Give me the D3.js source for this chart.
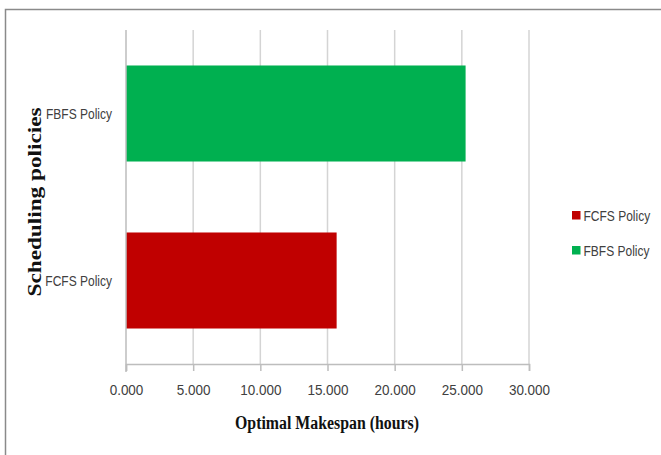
<!DOCTYPE html>
<html>
<head>
<meta charset="utf-8">
<script src="https://cdn.jsdelivr.net/npm/d3@7"></script>
<style>
  body { margin: 0; background: #fff; }
  svg { display: block; }
</style>
</head>
<body>
<div id="chart"></div>
<script>
// data
var categories = ['FBFS Policy', 'FCFS Policy']   // top to bottom
var values = [25.28, 15.68]
var barColors = ['#00B050', '#C00000']
var legendItems = ['FCFS Policy', 'FBFS Policy']
var legendColors = ['#C00000', '#00B050']
var xTicks = [0, 5, 10, 15, 20, 25, 30]

var width = 661, height = 455
var plot = { left: 126, right: 529, top: 30, bottom: 364 }
var labelFont = '"Liberation Sans", Arial, sans-serif'
var titleFont = '"Liberation Serif", "Times New Roman", serif'
var squeeze = 'scale(0.8,1)'   // calibri-ish narrow look

var svg = d3.select('#chart').append('svg')
    .attr('width', width)
    .attr('height', height)

// outer frame (runs off the right/bottom edge)
svg.append('rect')
    .attr('x', 5.5).attr('y', 9.5)
    .attr('width', width + 20).attr('height', height + 20)
    .attr('fill', 'none')
    .attr('stroke', '#8a8a8a')
    .attr('stroke-width', 1.5)

var xScale = d3.scaleLinear()
    .domain([0, 30])
    .range([plot.left, plot.right])

var yScale = d3.scaleBand()
    .domain(categories)
    .range([plot.top, plot.bottom])
    .paddingInner(0.425)
    .paddingOuter(0.2125)

// gridlines
svg.append('g')
    .attr('class', 'grid')
    .selectAll('line')
    .data(xTicks.slice(1)).enter()
    .append('line')
    .attr('x1', d => xScale(d)).attr('x2', d => xScale(d))
    .attr('y1', plot.top).attr('y2', plot.bottom)
    .attr('stroke', '#d4d4d4')
    .attr('stroke-width', 1.5)

// bars
svg.append('g')
    .attr('class', 'bars')
    .selectAll('rect')
    .data(categories).enter()
    .append('rect')
    .attr('x', xScale(0))
    .attr('y', d => yScale(d))
    .attr('width', (d, i) => xScale(values[i]) - xScale(0))
    .attr('height', yScale.bandwidth())
    .attr('fill', (d, i) => barColors[i])

// x axis
var xAxis = d3.axisBottom(xScale)
    .tickValues(xTicks)
    .tickSize(7)
    .tickPadding(13)
    .tickFormat(d3.format('.3f'))

var gx = svg.append('g')
    .attr('class', 'x axis')
    .attr('transform', `translate(0, ${plot.bottom})`)
    .call(xAxis)
gx.select('.domain').attr('stroke', '#bdbdbd').attr('stroke-width', 1.5)
gx.selectAll('.tick line').attr('stroke', '#bdbdbd').attr('stroke-width', 1.5)
gx.selectAll('text')
    .attr('transform', 'scale(0.9,1)')
    .style('font-family', labelFont)
    .style('font-size', '15px')
    .style('fill', '#404040')

// y axis line
svg.append('line')
    .attr('x1', plot.left).attr('x2', plot.left)
    .attr('y1', plot.top).attr('y2', plot.bottom + 8)
    .attr('stroke', '#bdbdbd')
    .attr('stroke-width', 1.5)

// category labels
svg.append('g')
    .selectAll('g')
    .data(categories).enter()
    .append('g')
    .attr('transform', d => `translate(112, ${yScale(d) + yScale.bandwidth() / 2})`)
    .append('text')
    .attr('transform', squeeze)
    .attr('dy', '0.35em')
    .attr('text-anchor', 'end')
    .style('font-family', labelFont)
    .style('font-size', '15px')
    .style('fill', '#404040')
    .text(d => d)

// axis titles
svg.append('text')
    .attr('x', 327).attr('y', 429)
    .attr('text-anchor', 'middle')
    .attr('textLength', 184)
    .attr('lengthAdjust', 'spacingAndGlyphs')
    .style('font-family', titleFont)
    .style('font-weight', 'bold')
    .style('font-size', '18px')
    .style('fill', '#111')
    .text('Optimal Makespan (hours)')

svg.append('text')
    .attr('transform', 'translate(41, 202) rotate(-90)')
    .attr('text-anchor', 'middle')
    .attr('textLength', 189)
    .attr('lengthAdjust', 'spacingAndGlyphs')
    .style('font-family', titleFont)
    .style('font-weight', 'bold')
    .style('font-size', '18px')
    .style('fill', '#111')
    .text('Scheduling policies')

// legend
var legend = svg.append('g')
    .attr('class', 'legend')
    .selectAll('g')
    .data(legendItems).enter()
    .append('g')
    .attr('transform', (d, i) => `translate(572, ${211 + i * 35})`)
legend.append('rect')
    .attr('width', 8.5).attr('height', 8.5)
    .attr('fill', (d, i) => legendColors[i])
legend.append('g')
    .attr('transform', 'translate(11.5, 4.5)')
    .append('text')
    .attr('transform', squeeze)
    .attr('dy', '0.35em')
    .style('font-family', labelFont)
    .style('font-size', '15px')
    .style('fill', '#404040')
    .text(d => d)
</script>
</body>
</html>
